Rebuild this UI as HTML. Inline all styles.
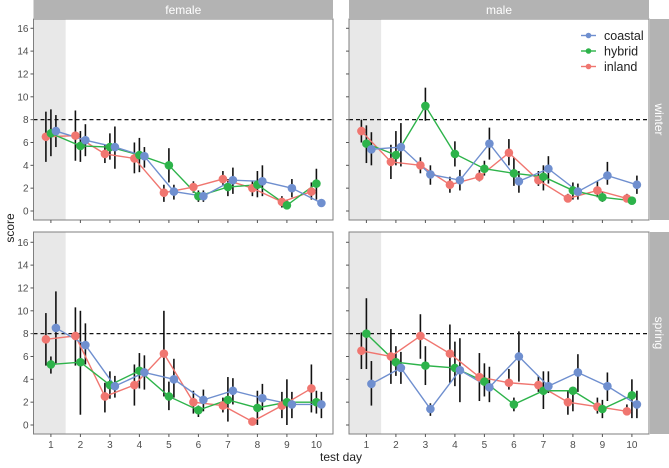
<!DOCTYPE html>
<html><head><meta charset="utf-8"><style>
html,body{margin:0;padding:0;background:#fff;}
svg{display:block;font-family:"Liberation Sans",sans-serif;}
</style></head><body>
<svg id="chart" width="669" height="468" viewBox="0 0 669 468" xmlns="http://www.w3.org/2000/svg"></svg>
<script>
const days = [1,2,3,4,5,6,7,8,9,10];
const groups = ["inland","hybrid","coastal"];
const yTicks = [0,2,4,6,8,10,12,16,14];
// female winter
const fwInland = [6.5,6.6,5.0,4.6,1.6,2.1,2.8,2.0,0.8,1.7];
const fwInlandLo = [4.3,4.4,4.2,3.3,0.8,1.6,2.3,1.3,0.3,1.0];
const fwInlandHi = [8.7,8.8,5.8,6.0,2.3,2.6,3.5,2.6,1.3,2.5];
const fwHybrid = [6.8,5.7,5.6,4.9,4.0,1.3,2.1,2.3,0.5,2.4];
const fwHybridLo = [4.8,4.3,4.5,3.4,2.5,0.8,1.3,1.2,0.2,1.0];
const fwHybridHi = [8.9,7.0,6.8,6.4,5.5,1.8,2.8,3.5,1.0,3.7];
const fwCoastal = [7.0,6.2,5.6,4.8,1.7,1.3,2.7,2.6,2.0,0.7];
const fwCoastalLo = [5.6,4.8,3.7,3.8,1.0,0.8,1.5,1.3,1.2,0.5];
const fwCoastalHi = [8.4,7.6,7.4,5.6,2.3,1.8,3.8,4.0,2.8,0.9];
// male winter
const mwInland = [7.0,4.3,4.0,2.3,3.0,5.1,2.7,1.1,1.8,1.1];
const mwInlandLo = [6.0,2.8,3.3,1.6,2.6,4.0,2.2,0.8,1.2,0.8];
const mwInlandHi = [8.0,5.8,4.7,3.0,3.6,6.3,3.5,1.5,2.6,1.5];
const mwHybrid = [5.9,4.9,9.2,5.0,3.7,3.3,3.0,1.8,1.2,0.9];
const mwHybridLo = [4.2,4.0,7.9,3.9,3.1,2.2,1.8,1.0,0.8,0.8];
const mwHybridHi = [7.5,7.0,10.8,6.1,4.4,4.7,4.0,2.5,1.7,1.2];
const mwCoastal = [5.4,5.6,3.2,2.7,5.9,2.6,3.7,1.7,3.1,2.3];
const mwCoastalLo = [4.0,3.9,2.3,1.8,4.5,1.6,2.4,1.0,2.3,1.5];
const mwCoastalHi = [6.9,7.7,4.0,3.6,7.3,3.5,4.8,2.4,4.3,3.1];
// female spring
const fsInland = [7.5,7.8,2.5,3.5,6.25,2.0,1.7,0.3,1.7,3.2];
const fsInlandLo = [5.2,5.2,1.1,1.7,2.5,1.0,1.1,0.0,0.6,1.1];
const fsInlandHi = [9.8,10.3,3.7,5.3,10.0,3.0,2.4,0.5,2.9,5.3];
const fsHybrid = [5.3,5.5,3.5,4.75,2.5,1.3,2.2,1.5,2.0,2.0];
const fsHybridLo = [4.5,0.9,2.3,3.2,1.3,0.7,0.3,0.0,0.0,1.0];
const fsHybridHi = [6.0,10.0,4.7,6.3,3.8,1.7,4.2,3.0,4.0,3.0];
const fsCoastal = [8.5,7.0,3.4,4.6,4.0,2.2,3.0,2.35,1.8,1.8];
const fsCoastalLo = [5.4,5.3,2.4,3.1,2.4,1.2,1.8,1.3,0.6,0.6];
const fsCoastalHi = [11.7,8.9,4.3,6.1,5.8,3.1,4.1,3.6,2.9,2.9];
// male spring
const msInland = [6.5,6.0,7.8,6.25,4.2,3.7,3.5,2.0,1.6,1.2];
const msInlandLo = [4.9,3.6,5.8,3.7,2.1,3.1,2.9,0.9,1.0,0.9];
const msInlandHi = [8.1,8.4,9.7,8.8,6.3,4.9,4.3,3.0,2.4,1.8];
const msHybrid = [8.0,5.5,5.2,5.0,3.8,1.8,3.0,3.0,1.4,2.6];
const msHybridLo = [4.9,4.3,3.5,3.4,2.5,1.2,1.4,1.2,0.6,0.6];
const msHybridHi = [11.1,6.9,6.9,7.3,5.4,2.4,4.7,3.1,2.2,4.0];
const msCoastal = [3.6,5.0,1.4,4.8,3.3,6.0,3.4,4.6,3.4,1.8];
const msCoastalLo = [1.7,3.6,0.8,2.0,2.0,3.8,2.8,2.9,2.1,0.6];
const msCoastalHi = [5.6,6.4,1.9,7.6,5.1,8.2,4.7,6.2,4.6,3.0];

const colors = {inland:"#F07670", hybrid:"#2DB34A", coastal:"#6F8FCF"};
const dodge = {inland:-5, hybrid:0, coastal:5};
const NS = "http://www.w3.org/2000/svg";
const svg = document.getElementById("chart");
function el(tag, attrs, parent){const e=document.createElementNS(NS,tag);for(const k in attrs)e.setAttribute(k,attrs[k]);(parent||svg).appendChild(e);return e;}

const panels = [
 {name:"female-winter", x0:33.5, x1:333, y0:19, y1:220, left:true, bottom:false,
  data:{inland:[fwInland,fwInlandLo,fwInlandHi],hybrid:[fwHybrid,fwHybridLo,fwHybridHi],coastal:[fwCoastal,fwCoastalLo,fwCoastalHi]}},
 {name:"male-winter", x0:349, x1:649, y0:19, y1:220, left:false, bottom:false,
  data:{inland:[mwInland,mwInlandLo,mwInlandHi],hybrid:[mwHybrid,mwHybridLo,mwHybridHi],coastal:[mwCoastal,mwCoastalLo,mwCoastalHi]}},
 {name:"female-spring", x0:33.5, x1:333, y0:232, y1:434, left:true, bottom:true,
  data:{inland:[fsInland,fsInlandLo,fsInlandHi],hybrid:[fsHybrid,fsHybridLo,fsHybridHi],coastal:[fsCoastal,fsCoastalLo,fsCoastalHi]}},
 {name:"male-spring", x0:349, x1:649, y0:232, y1:434, left:false, bottom:true,
  data:{inland:[msInland,msInlandLo,msInlandHi],hybrid:[msHybrid,msHybridLo,msHybridHi],coastal:[msCoastal,msCoastalLo,msCoastalHi]}}
];

panels.forEach(p=>{
  const xs = d => p.x0 + 17.4 + (d-1)*29.5;
  const ys = v => p.y1 - 9 - v*11.42;
  const g = el("g",{});
  
  
  const shade = el("rect",{x:p.x0,y:p.y0,width:xs(1.5)-p.x0,height:p.y1-p.y0,fill:"#e8e8e8"},g);
  
  
  const ref = el("line",{x1:p.x0,x2:p.x1,y1:ys(8),y2:ys(8),stroke:"#111","stroke-width":1.2,"stroke-dasharray":"4,3"},g);
  
  
  groups.forEach(gr=>{
    const [v,lo,hi]=p.data[gr];
    days.forEach((d,i)=>{
      const b=el("line",{x1:xs(d)+dodge[gr],x2:xs(d)+dodge[gr],y1:ys(lo[i]),y2:ys(hi[i]),stroke:"#111","stroke-width":1.6},g);
      
      
    });
  });
  groups.forEach(gr=>{
    const v=p.data[gr][0];
    const pl=el("polyline",{points:days.map((d,i)=>(xs(d)+dodge[gr])+","+ys(v[i])).join(" "),fill:"none",stroke:colors[gr],"stroke-width":1.4},g);
    
    
  });
  groups.forEach(gr=>{
    const v=p.data[gr][0];
    days.forEach((d,i)=>{
      const c=el("circle",{cx:xs(d)+dodge[gr],cy:ys(v[i]),r:4.3,fill:colors[gr]},g);
      
      
    });
  });
  const border=el("rect",{x:p.x0,y:p.y0,width:p.x1-p.x0,height:p.y1-p.y0,fill:"none",stroke:"#7f7f7f","stroke-width":1},g);
  
  
  // y ticks
  yTicks.forEach(t=>{
    el("line",{x1:p.x0-3,x2:p.x0,y1:ys(t),y2:ys(t),stroke:"#555","stroke-width":1},g);
    if(p.left){
      const tx=el("text",{x:p.x0-5,y:ys(t)+3.5,"text-anchor":"end","font-size":10,fill:"#4d4d4d"},g);
      tx.textContent=t;
      
      
    }
  });
  days.forEach(d=>{
    el("line",{x1:xs(d),x2:xs(d),y1:p.y1,y2:p.y1+3,stroke:"#555","stroke-width":1},g);
    if(p.bottom){
      const tx=el("text",{x:xs(d),y:p.y1+14,"text-anchor":"middle","font-size":10,fill:"#4d4d4d"},g);
      tx.textContent=d;
      
      
    }
  });
});

// strips
[["female",33.5,333],["male",349,649]].forEach(([t,a,b])=>{
  const r=el("rect",{x:a,y:0,width:b-a,height:19,fill:"#b3b3b3"});
  
  
  const tx=el("text",{x:(a+b)/2,y:14,"text-anchor":"middle","font-size":12,fill:"#fff"});
  tx.textContent=t;
  
  
});
[["winter",19,220],["spring",232,434]].forEach(([t,a,b])=>{
  const r=el("rect",{x:650,y:a,width:19,height:b-a,fill:"#b3b3b3"});
  
  
  const tx=el("text",{x:0,y:0,"text-anchor":"middle","font-size":12,fill:"#fff",transform:`translate(655,${(a+b)/2}) rotate(90)`});
  tx.textContent=t;
  
  
});

// legend
const legendLabels = ["coastal","hybrid","inland"];
legendLabels.forEach((l,i)=>{
  const y=35.5+i*15.5;
  const ln=el("line",{x1:581,x2:596,y1:y,y2:y,stroke:colors[l],"stroke-width":1.4});
  
  
  el("circle",{cx:588.5,cy:y,r:2.8,fill:colors[l]});
  const tx=el("text",{x:604,y:y+4.5,"font-size":12.5,fill:"#222"});
  tx.textContent=l;
  
  
});

// axis titles
const yt=el("text",{x:0,y:0,"text-anchor":"middle","font-size":12,fill:"#222",transform:"translate(14,228) rotate(-90)"});
yt.textContent="score";


const xt=el("text",{x:341,y:461,"text-anchor":"middle","font-size":12,fill:"#222"});
xt.textContent="test day";


</script>
</body></html>
